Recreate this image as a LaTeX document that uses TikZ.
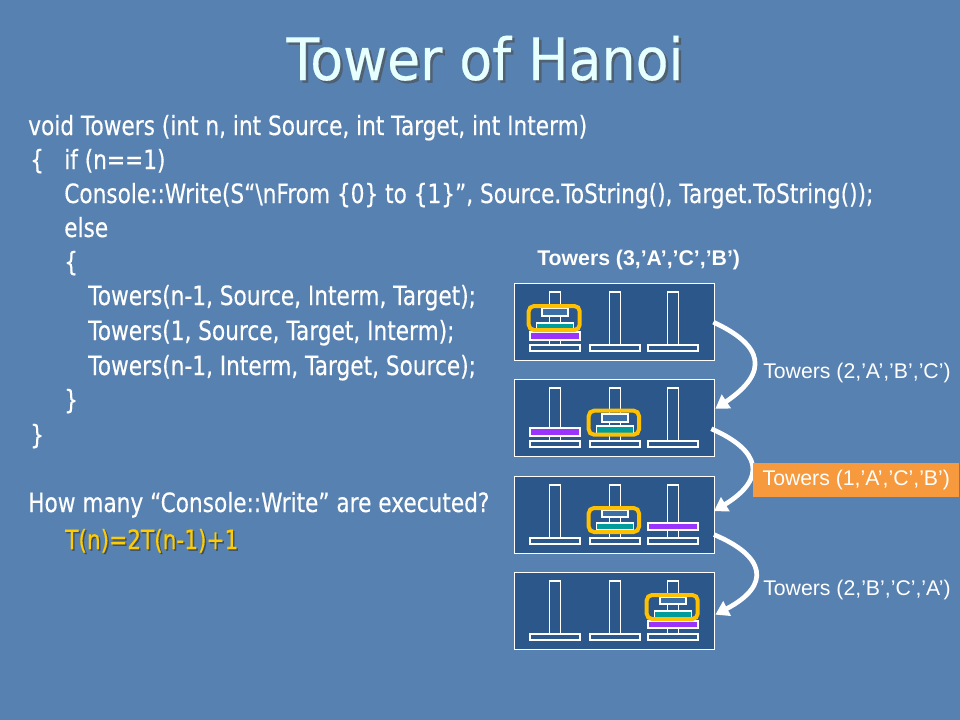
\documentclass[tikz,border=0pt]{standalone}
\usepackage{fontspec}
\setmainfont{DejaVu Sans}[FakeStretch=0.815, FakeBold=0.35]
\newfontfamily\titlef{DejaVu Sans}[FakeStretch=0.92, FakeBold=0.3]
\newfontfamily\arialf{Liberation Sans}
\usetikzlibrary{arrows.meta}
\definecolor{bgblue}{HTML}{5781B0}
\definecolor{panelblue}{HTML}{2C578A}
\definecolor{smalldisk}{HTML}{3B6FA6}
\definecolor{tealdisk}{HTML}{009C9C}
\definecolor{purpledisk}{HTML}{9A34FA}
\definecolor{hlgold}{HTML}{FFC000}
\definecolor{lblorange}{HTML}{F7993D}
\definecolor{titlecol}{HTML}{E6FFFF}
\definecolor{formgold}{HTML}{FFCC00}
\newcommand\hanoipanel[2]{%
  \node[panelframe, anchor=north west, minimum width=150bp, minimum height=57.75bp, inner sep=0] (#1) at (514,#2) {};
  \begin{scope}[shift={(514,#2)}]
    \foreach \cx in {41,101,159}{
      \draw[towerpart] (\cx-5.5,9) rectangle (\cx+5.5,62);
      \draw[towerpart] (\cx-25,62) rectangle (\cx+25,68);
    }
  \end{scope}}
\newcommand\hdisk[5]{\draw[disk, fill=#1] (#2-#3,#4) rectangle (#2+#3,#5);}
\begin{document}
\begin{tikzpicture}[x=0.75bp,y=-0.75bp,
  code/.style={anchor=base west, inner sep=0, text=white, font=\fontsize{20}{24}\selectfont},
  lbl/.style={anchor=base west, inner sep=0, text=white, font=\arialf\fontsize{16}{19}\selectfont},
  panelframe/.style={draw=white, line width=1bp, fill=panelblue},
  towerpart/.style={draw=white, line width=0.8bp, fill=panelblue},
  disk/.style={draw=white, line width=0.8bp},
  hlbox/.style={draw=hlgold, line width=3bp, rounded corners=4bp},
  harrow/.style={draw=white, line width=3.5bp, -{Triangle[width=12bp,length=10bp]}}]
\useasboundingbox (0,0) rectangle (960,720);
\fill[bgblue] (0,0) rectangle (960,720);
% title
\node[anchor=base, inner sep=0, text=black!70, opacity=0.6, font=\titlef\fontsize{44}{50}\selectfont] (titlesh) at (487.5,82.5) {Tower of Hanoi};
\node[anchor=base, inner sep=0, text=titlecol, font=\titlef\fontsize{44}{50}\selectfont] (title) at (485,80) {Tower of Hanoi};
% code
\node[code] (c1) at (28,135) {void Towers (int n, int Source, int Target, int Interm)};
\node[code] (c2a) at (30,169) {\{};
\node[code] (c2) at (64,169) {if (n==1)};
\node[code] (c3) at (64,203) {Console::Write(S“\textbackslash nFrom \{0\} to \{1\}”, Source.ToString(), Target.ToString());};
\node[code] (c4) at (64,237) {else};
\node[code] (c5) at (64,271) {\{};
\node[code] (c6) at (88,305) {Towers(n-1, Source, Interm, Target);};
\node[code] (c7) at (88,340) {Towers(1, Source, Target, Interm);};
\node[code] (c8) at (88,375) {Towers(n-1, Interm, Target, Source);};
\node[code] (c9) at (64,409) {\}};
\node[code] (c10) at (30,444) {\}};
\node[code] (q) at (28,512) {How many “Console::Write” are executed?};
\node[code, text=black!80, opacity=0.6] (fsh) at (66.5,550.5) {T(n)=2T(n-1)+1};
\node[code, text=formgold] (f) at (65,549) {T(n)=2T(n-1)+1};
% top label
\node[lbl, font=\arialf\bfseries\fontsize{16}{19}\selectfont] (toplbl) at (537,265) {Towers (3,’A’,’C’,’B’)};
% panels
\hanoipanel{p1}{283}
\begin{scope}[shift={(514,283)}]
  \hdisk{purpledisk}{41}{25}{49}{57}
  \hdisk{tealdisk}{41}{18.5}{40}{47}
  \hdisk{smalldisk}{41}{13}{25}{33}
  \draw[hlbox] (14.7,23) rectangle (65.7,47);
\end{scope}
\hanoipanel{p2}{379}
\begin{scope}[shift={(514,379)}]
  \hdisk{purpledisk}{41}{25}{49}{57}
  \hdisk{tealdisk}{101}{18.5}{47}{55}
  \hdisk{smalldisk}{101}{13}{35}{43}
  \draw[hlbox] (74.7,31.7) rectangle (125,55.7);
\end{scope}
\hanoipanel{p3}{476}
\begin{scope}[shift={(514,476)}]
  \hdisk{tealdisk}{101}{18.5}{47}{54}
  \hdisk{smalldisk}{101}{13}{34}{41}
  \hdisk{purpledisk}{159}{25}{47}{54}
  \draw[hlbox] (74.7,32) rectangle (125,56);
\end{scope}
\hanoipanel{p4}{572}
\begin{scope}[shift={(514,572)}]
  \hdisk{purpledisk}{159}{25}{49}{56}
  \hdisk{tealdisk}{159}{18.5}{39}{46}
  \hdisk{smalldisk}{159}{13}{25}{32}
  \draw[hlbox] (132.7,23) rectangle (183.7,47);
\end{scope}
% arrows
\draw[harrow] ([xshift=-1.5bp]p1.east) .. controls (763,345) and (770,372) .. ([yshift=7bp]p2.east);
\draw[harrow] ([xshift=-3bp,yshift=-8bp]p2.east) .. controls (760,450) and (768,478) .. ([xshift=-1bp,yshift=3bp]p3.east);
\draw[harrow] ([xshift=-1bp,yshift=-14.6bp]p3.east) .. controls (765,556) and (772,585) .. ([yshift=-2.6bp]p4.east);
% right labels
\node[lbl] (l1) at (763,378) {Towers (2,’A’,’B’,’C’)};
\node[anchor=west, fill=lblorange, inner xsep=7bp, inner ysep=0, minimum height=25.5bp, text=white, font=\arialf\fontsize{16}{19}\selectfont] (l2) at (753,480) {Towers (1,’A’,’C’,’B’)};
\node[lbl] (l3) at (763,595) {Towers (2,’B’,’C’,’A’)};
\end{tikzpicture}
\end{document}
